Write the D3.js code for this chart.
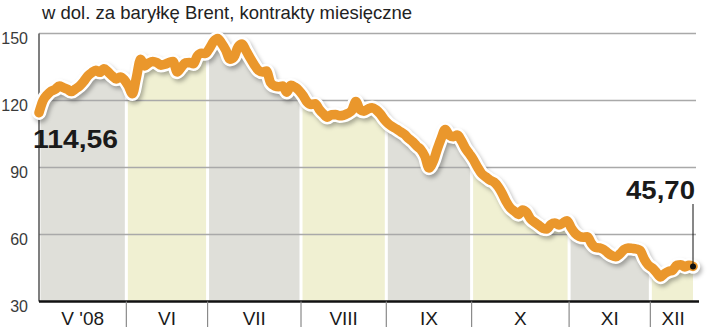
<!DOCTYPE html>
<html><head><meta charset="utf-8">
<script src="https://cdn.jsdelivr.net/npm/d3@7"></script>
<style>body{margin:0;background:#fff}svg{display:block}</style>
</head><body><svg id="c" width="720" height="330"></svg>
<script>
const title = "w dol. za baryłkę Brent, kontrakty miesięczne";
const months = ["V '08","VI","VII","VIII","IX","X","XI","XII"];
const monthDays = [22,20,23,21,21,24,20,11];
const yTicks = [30,60,90,120,150];
const prices = [
114.56,120,122.5,124.2,125,126.5,125.8,125,124,125.2,126.5,128.5,131,132.5,133.5,132.6,134.2,132.8,131,129.6,130.5,129.3,
126.5,123,130.5,138.5,135.5,136.8,137.5,137,135.8,136.2,137,137.5,132.8,134.8,136.8,137,136.5,140,141.2,141,
143.5,146.5,147.8,145.5,142.5,138.5,139.5,144,145.3,142.2,139,136,133.5,132.8,133.2,128,126.5,126.2,126.5,123.7,126.8,126,124.5,
122.2,119.3,118.2,118.6,116,114,112.5,113.6,113.7,113.2,113.4,114.2,115.5,119.5,116,115.2,116.2,116.8,115.8,114,111.5,
109.6,108.3,107.2,106,104.8,103,101.5,99.6,98,95,89.8,92.5,98,103,107,104.5,103.8,104.5,102,98.5,96,
93.3,90,87.2,85.8,84.4,83.5,81.5,78.5,74.8,72,70.5,69,71,70,67,65.5,64.2,62.8,62.5,64.5,65.2,64.3,65.2,66.2,
63,60.5,59.2,58.8,59,56,54.2,54,53.3,51.8,50.6,50,51.3,53.2,54,53.8,53.5,52.8,49,46.3,
45,43,41,42.5,43.5,44,46.2,46.5,45.5,46.2,45.7
];
const startLabel = "114,56";
const endLabel = "45,70";

const svg = d3.select("#c");
const L = 39, R = 696;
const x = d3.scaleLinear().domain([0, prices.length - 1]).range([39, 693]);
const y = d3.scaleLinear().domain([30, 150]).range([301.5, 33.5]);

const defs = svg.append("defs");
const f = defs.append("filter").attr("id","sh").attr("x","-5%").attr("y","-20%").attr("width","110%").attr("height","140%");
f.append("feGaussianBlur").attr("stdDeviation", 2.2);

let cum = 0;
const mr = months.map((m, k) => {
  const i0 = cum, i1 = cum + monthDays[k] - 1; cum += monthDays[k];
  const left = k === 0 ? L : x(i0 - 0.5);
  const right = k === months.length - 1 ? R : x(i1 + 0.5);
  return {m, k, i0, i1, left, right};
});

const area = d3.area().x((d,i)=>x(i)).y0(y(30)).y1(d=>y(d)).curve(d3.curveMonotoneX);
mr.forEach(r => {
  const id = "cl" + r.k;
  defs.append("clipPath").attr("id", id).append("rect")
    .attr("x", r.left + 1.5).attr("y", 0).attr("width", r.right - r.left - 3).attr("height", 330);
  svg.append("path").datum(prices).attr("clip-path", `url(#${id})`)
    .attr("d", area).attr("fill", r.k % 2 === 0 ? "#dfdfd9" : "#f0f0d2");
});

svg.append("g").selectAll("line").data(yTicks.filter(t => t > 30)).join("line")
  .attr("x1", L).attr("x2", R).attr("y1", d=>y(d)).attr("y2", d=>y(d))
  .attr("stroke", "#a9a9a9").attr("stroke-width", 1.5);

const ya = svg.append("g").attr("transform", `translate(${L},0)`)
  .call(d3.axisLeft(y).tickValues(yTicks).tickSize(0).tickPadding(11));
ya.select(".domain").remove();
ya.selectAll("text").attr("y", 5).attr("font-family", "Liberation Sans, Arial, sans-serif")
  .attr("font-size", 16).attr("fill", "#3a3a3a");
svg.append("line").attr("x1", L).attr("x2", L).attr("y1", y(150)).attr("y2", y(30))
  .attr("stroke", "#555").attr("stroke-width", 1.5);

const line = d3.line().x((d,i)=>x(i)).y(d=>y(d)).curve(d3.curveMonotoneX);
svg.append("path").datum(prices).attr("d", line).attr("fill","none")
  .attr("stroke", "#000").attr("stroke-opacity", 0.3).attr("stroke-width", 14)
  .attr("stroke-linejoin","round").attr("stroke-linecap","round")
  .attr("transform","translate(2,3)").attr("filter","url(#sh)");
svg.append("path").datum(prices).attr("d", line).attr("fill","none")
  .attr("stroke", "#fff").attr("stroke-width", 14.5)
  .attr("stroke-linejoin","round").attr("stroke-linecap","round");
svg.append("path").datum(prices).attr("d", line).attr("fill","none")
  .attr("stroke", "#ea972c").attr("stroke-width", 9.5)
  .attr("stroke-linejoin","round").attr("stroke-linecap","round");

svg.append("line").attr("x1", L).attr("x2", 699).attr("y1", y(30)).attr("y2", y(30))
  .attr("stroke", "#111").attr("stroke-width", 2.5);
svg.append("g").selectAll("line").data(mr.slice(1)).join("line")
  .attr("x1", d=>d.left).attr("x2", d=>d.left).attr("y1", y(30)).attr("y2", 327)
  .attr("stroke", "#8a8a8a").attr("stroke-width", 1.2);
svg.append("g").selectAll("text").data(mr).join("text")
  .attr("x", d => (d.left + d.right) / 2).attr("y", 325).attr("text-anchor","middle")
  .attr("font-family","Liberation Sans, Arial, sans-serif").attr("font-size", 19).attr("fill","#1a1a1a")
  .text(d => d.m);

svg.append("text").attr("x", 42).attr("y", 18.5)
  .attr("font-family","Liberation Sans, Arial, sans-serif").attr("font-size", 18.5).attr("fill","#222")
  .text(title);

svg.append("text").attr("x", 33).attr("y", 148).attr("font-family","Liberation Sans, Arial, sans-serif")
  .attr("font-weight","bold").attr("font-size", 26).attr("fill","#1a1a1a")
  .attr("textLength", 85).attr("lengthAdjust","spacingAndGlyphs").text(startLabel);
const lx = x(prices.length - 1), ly = y(prices[prices.length - 1]);
svg.append("text").attr("x", 695).attr("y", 198.5).attr("text-anchor","end")
  .attr("font-family","Liberation Sans, Arial, sans-serif")
  .attr("font-weight","bold").attr("font-size", 25).attr("fill","#1a1a1a")
  .attr("textLength", 69).attr("lengthAdjust","spacingAndGlyphs").text(endLabel);
svg.append("line").attr("x1", lx).attr("x2", lx).attr("y1", 204).attr("y2", ly)
  .attr("stroke","#111").attr("stroke-width", 1);
svg.append("circle").attr("cx", lx).attr("cy", ly).attr("r", 3).attr("fill","#111");
</script>
</body></html>
